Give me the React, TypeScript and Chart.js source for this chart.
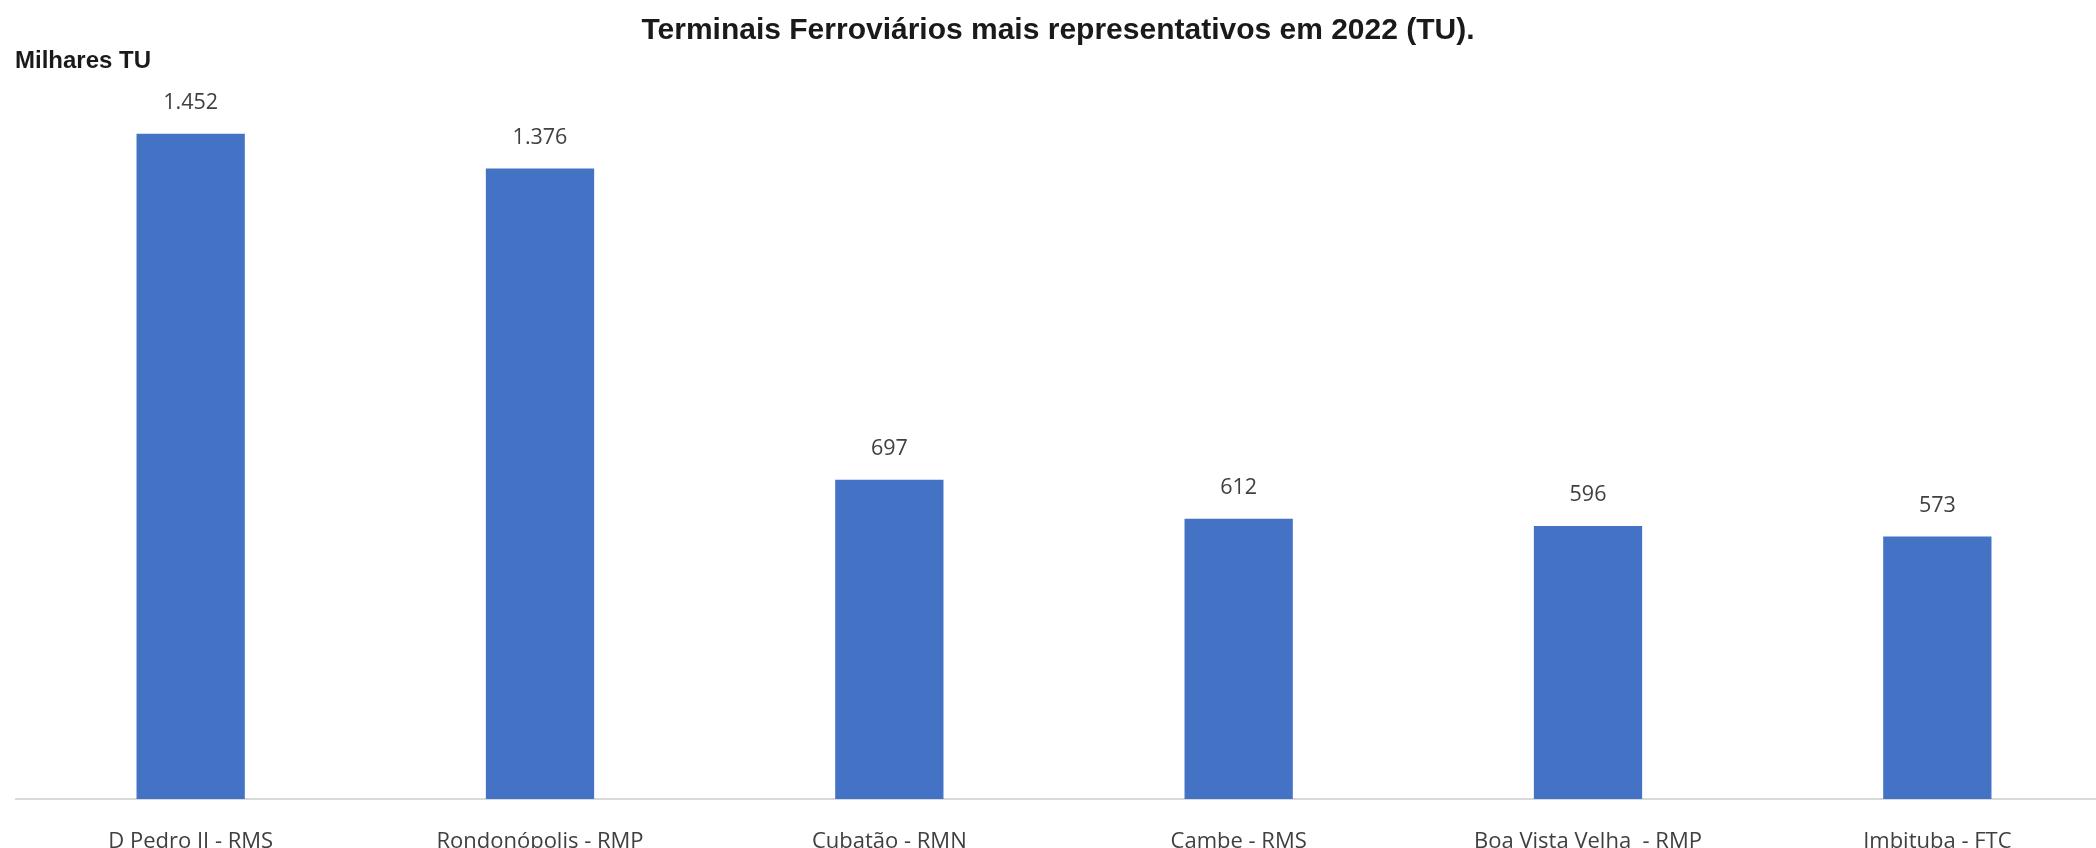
import React, { useEffect, useRef } from "react";
import { Chart, registerables } from "chart.js";

Chart.register(...registerables);

const categories = [
  "D Pedro II - RMS",
  "Rondonópolis - RMP",
  "Cubatão - RMN",
  "Cambe - RMS",
  "Boa Vista Velha  - RMP",
  "Imbituba - FTC",
];
const values = [1452, 1376, 697, 612, 596, 573];
const titleText = "Terminais Ferroviários mais representativos em 2022 (TU).";
const yAxisTitle = "Milhares TU";

const CW = 2116;
const CH = 848;

const fmt = (v: number) => v.toLocaleString("pt-BR");

export default function App() {
  const ref = useRef<HTMLCanvasElement | null>(null);
  useEffect(() => {
    if (!ref.current) return;
    const textPlugin = {
      id: "texts",
      afterDatasetsDraw(chart: any) {
        const ctx = chart.ctx;
        ctx.save();
        // data labels
        const meta = chart.getDatasetMeta(0);
        ctx.fillStyle = "#404040";
        ctx.font = '21.5px "Open Sans"';
        ctx.textAlign = "center";
        ctx.textBaseline = "middle";
        meta.data.forEach((bar: any, i: number) => {
          ctx.fillText(fmt(values[i]), bar.x, bar.y - 31);
        });
        // title
        ctx.fillStyle = "#1a1a1a";
        ctx.font = 'bold 30px "Liberation Sans", Arial, sans-serif';
        ctx.fillText(titleText, CW / 2, 31);
        // y axis title
        ctx.textAlign = "left";
        ctx.font = 'bold 24px "Liberation Sans", Arial, sans-serif';
        ctx.fillText(yAxisTitle, 15, 61);
        ctx.restore();
      },
    };
    const chart = new Chart(ref.current, {
      type: "bar",
      data: {
        labels: categories,
        datasets: [
          {
            data: values,
            backgroundColor: "#4472C4",
            borderWidth: 0,
            categoryPercentage: 1,
            barPercentage: 0.31,
          },
        ],
      },
      options: {
        responsive: false,
        animation: false,
        devicePixelRatio: 1,
        layout: { padding: { left: 16, right: 4, top: 66, bottom: 0 } },
        plugins: {
          legend: { display: false },
          title: { display: false },
          tooltip: { enabled: false },
        },
        scales: {
          x: {
            grid: { display: false, drawTicks: false },
            border: { color: "#d9d9d9", width: 2 },
            ticks: {
              color: "#404040",
              font: { family: '"Open Sans"', size: 22 },
              padding: 30,
              maxRotation: 0,
              autoSkip: false,
            },
            afterFit(scale: any) {
              scale.height = 49;
            },
          },
          y: {
            display: false,
            min: 0,
            max: 1600,
          },
        },
      },
      plugins: [textPlugin],
    });
    return () => chart.destroy();
  }, []);
  return (
    <div
      style={{
        position: "absolute",
        left: 0,
        top: 0,
        width: 2096,
        height: 848,
        overflow: "hidden",
        background: "#fff",
      }}
    >
      <canvas ref={ref} width={CW} height={CH} style={{ width: CW, height: CH, display: "block" }} />
    </div>
  );
}
